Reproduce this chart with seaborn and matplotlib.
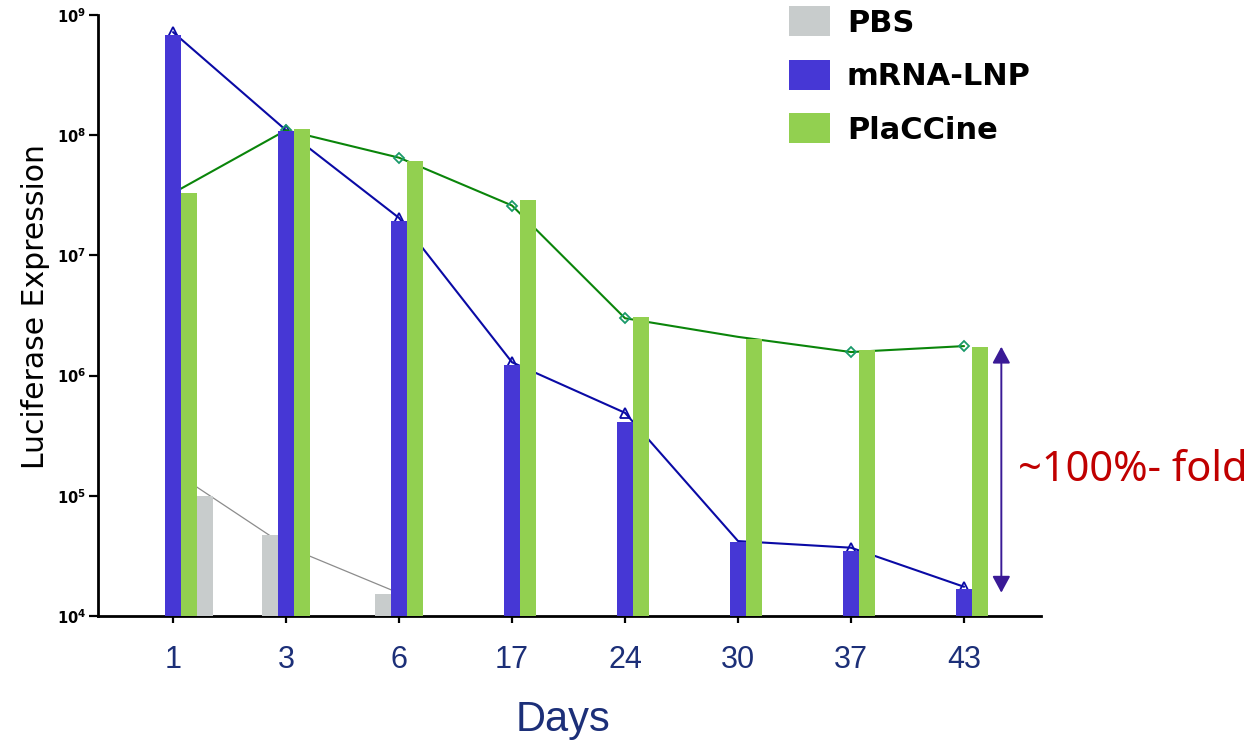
import numpy as np
import matplotlib
matplotlib.use("Agg")
import matplotlib.pyplot as plt
import seaborn as sns
from matplotlib.patches import Patch

# ---------------- data ----------------
days = ["1", "3", "6", "17", "24", "30", "37", "43"]
series_names = ["PBS", "mRNA-LNP", "PlaCCine"]

mrna_bar = [6.8e8, 1.08e8, 1.93e7, 1.22e6, 4.1e5, 4.1e4, 3.45e4, 1.68e4]
placcine_bar = [3.3e7, 1.13e8, 6.1e7, 2.9e7, 3.1e6, 2.0e6, 1.63e6, 1.74e6]
pbs_bar = [1.0e5, 4.7e4, 1.52e4]

mrna_line = [7.2e8, 1.1e8, 2.05e7, 1.29e6, 4.9e5, 4.2e4, 3.7e4, 1.75e4]
placcine_line = [3.3e7, 1.1e8, 6.5e7, 2.6e7, 3.0e6, 2.1e6, 1.57e6, 1.76e6]
pbs_line = [1.6e5, 3.8e4, 1.55e4]

ytick_values = [1e4, 1e5, 1e6, 1e7, 1e8, 1e9]
ytick_labels = [r"$\mathbf{10^{4}}$", r"$\mathbf{10^{5}}$", r"$\mathbf{10^{6}}$",
                r"$\mathbf{10^{7}}$", r"$\mathbf{10^{8}}$", r"$\mathbf{10^{9}}$"]

# ---------------- style ----------------
sns.set_style("ticks")
plt.rcParams["font.family"] = ["DejaVu Sans"]
plt.rcParams["text.color"] = "black"

c_pbs = "#C8CCCC"
c_mrna = "#4637D5"
c_plac = "#92D050"
c_mrna_line = "#0A0AA5"
c_plac_line = "#0A850A"
c_plac_mark = "#1A9A6A"
c_pbs_line = "#8C8C8C"
c_axis_text = "#1C2F78"

fig = plt.figure(figsize=(12.55, 7.46), dpi=100)
ax = fig.add_axes([98 / 1255, 130 / 746, 943 / 1255, 601 / 746])
ax.set_yscale("log")

x = np.arange(len(days))
w = 0.142
pbs_offset = np.array([2, -1, -1]) * w

# lines (behind bars)
keep = [0, 1, 2, 3, 4, 6, 7]
sns.lineplot(x=x, y=mrna_line, ax=ax, color=c_mrna_line, lw=1.5, marker="^",
             markersize=7, markerfacecolor="none", markeredgecolor=c_mrna_line,
             markeredgewidth=1.3, markevery=keep, zorder=1)
sns.lineplot(x=x, y=placcine_line, ax=ax, color=c_plac_line, lw=1.5, marker="D",
             markersize=5.5, markerfacecolor="none", markeredgecolor=c_plac_mark,
             markeredgewidth=1.3, markevery=keep, zorder=1)
sns.lineplot(x=x[:3], y=pbs_line, ax=ax, color=c_pbs_line, lw=0.9, zorder=1)

# bars
ax.bar(x, mrna_bar, width=w, color=c_mrna, edgecolor="none", zorder=3)
ax.bar(x + w, placcine_bar, width=w, color=c_plac, edgecolor="none", zorder=3)
ax.bar(x[:3] + pbs_offset, pbs_bar, width=w, color=c_pbs, edgecolor="none", zorder=3)

# axes
ax.set_xlim(-0.664, 7.681)
ax.set_ylim(1e4, 1e9)
ax.set_xticks(x)
ax.set_xticklabels(days, fontsize=22, color=c_axis_text, family="Liberation Sans")
ax.set_yticks(ytick_values)
ax.set_yticklabels(ytick_labels, fontsize=10.5, color="black")
ax.minorticks_off()
ax.tick_params(axis="y", length=6.5, width=1.6, pad=2, colors="black")
ax.tick_params(axis="x", length=5, width=1.6, pad=16, colors="black")
for lab in ax.get_xticklabels():
    lab.set_color(c_axis_text)
sns.despine(ax=ax)
for s in ["left", "bottom"]:
    ax.spines[s].set_linewidth(2)
    ax.spines[s].set_color("black")

ax.set_ylabel("Luciferase Expression", fontsize=21.5, color="black")
ax.yaxis.set_label_coords(-0.051, 0.515)
ax.set_xlabel("Days", fontsize=30, color=c_axis_text, family="Liberation Sans")
ax.xaxis.set_label_coords(0.493, -0.14)

# fold-change annotation
ax.annotate("", xy=(7.33, placcine_bar[-1]), xytext=(7.33, mrna_bar[-1] * 0.93),
            arrowprops=dict(arrowstyle="<|-|>,head_length=0.5,head_width=0.27",
                            color="#3A1A96", lw=1.4, mutation_scale=20,
                            shrinkA=0, shrinkB=0),
            annotation_clip=False)
ax.text(7.48, 1.33e5, "~100%- fold", color="#C00000", fontsize=30,
        family="Noto Sans", va="baseline", ha="left", clip_on=False)

# legend
handles = [Patch(facecolor=c, edgecolor="none", label=n)
           for c, n in zip([c_pbs, c_mrna, c_plac], series_names)]
fig.legend(handles=handles, loc="upper left", bbox_to_anchor=(789 / 1255, 1 - 6 / 746),
           frameon=False, prop={"weight": "bold", "size": 22}, labelcolor="black",
           handlelength=1.34, handleheight=1.15, handletextpad=0.55,
           labelspacing=0.72, borderpad=0, borderaxespad=0)

fig.savefig("out.png", dpi=100)
